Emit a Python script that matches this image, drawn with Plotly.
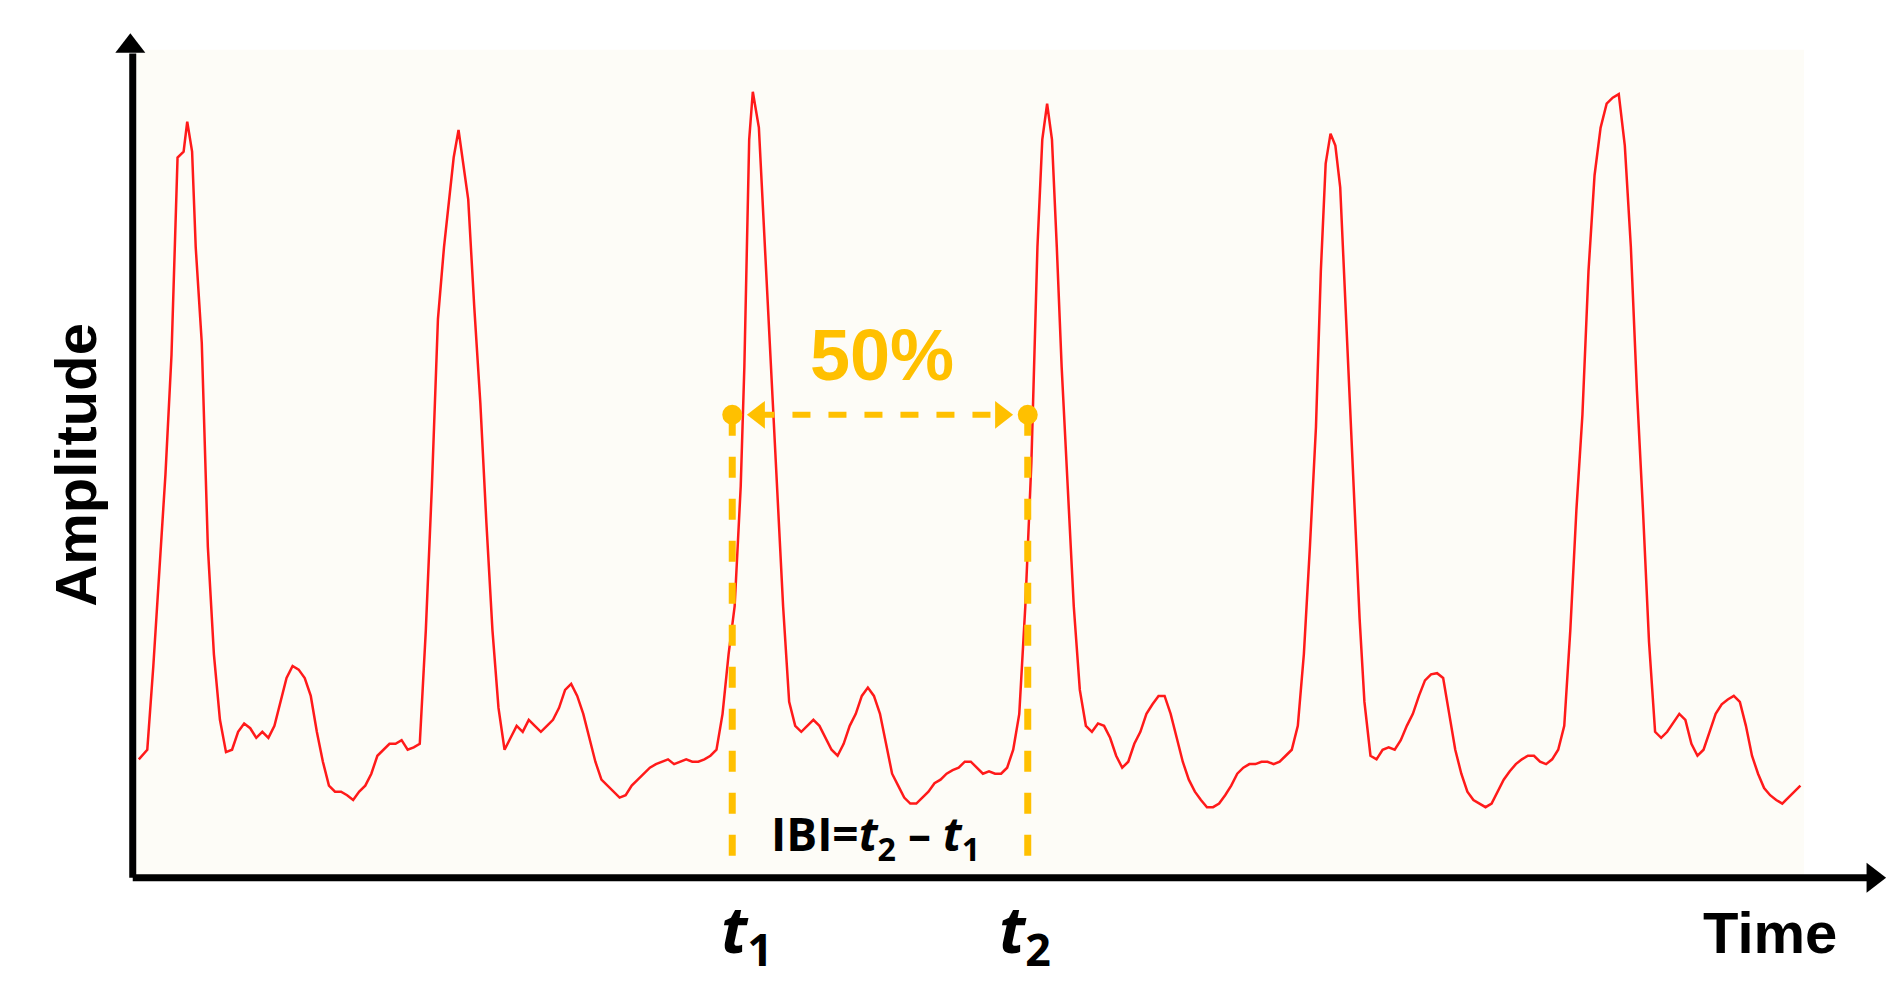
import plotly.graph_objects as go

# Signal waypoints (time units, amplitude measured downward in image-like units)
time_pts = [108,115,120,125,130,135,140,145,148,152,155,160,165,170,175,180,185,190,195,200,205,210,215,220,225,230,235,240,245,250,255,260,265,270,275,280,285,290,295,300,305,310,315,320,325,330,335,340,345,350,355,360,365,368,372,376,380,385,390,395,400,405,410,415,420,425,430,435,440,445,450,455,460,465,470,475,480,485,490,495,500,505,510,515,520,525,530,535,540,545,550,555,560,565,570,575,580,585,590,595,600,605,608,612,615,620,625,630,635,640,645,650,655,660,665,670,675,680,685,690,695,700,705,710,715,720,725,730,735,740,745,750,755,760,765,770,775,780,785,790,795,800,805,810,815,820,825,830,835,840,845,850,854,858,862,866,870,875,880,885,890,895,900,905,910,915,920,925,930,935,940,945,950,955,960,965,970,975,980,985,990,995,1000,1005,1010,1015,1020,1025,1030,1035,1040,1045,1050,1055,1060,1065,1070,1075,1080,1084,1088,1092,1096,1100,1104,1108,1112,1116,1120,1125,1130,1135,1140,1145,1150,1155,1160,1165,1170,1175,1180,1185,1190,1195,1200,1205,1210,1215,1220,1225,1230,1235,1240,1245,1250,1255,1260,1265,1270,1275,1280,1285,1290,1295,1300,1305,1310,1315,1320,1325,1330,1335,1340,1345,1350,1355,1360,1365,1370,1375,1380,1385,1390,1395,1400,1405,1410,1415,1420,1425,1430,1435,1440,1445,1450,1455,1460,1465,1470,1475,1480]
amp_pts = [628,620,550,470,390,290,125,120,95,120,200,280,450,540,595,622,620,605,598,602,610,605,610,600,580,560,550,553,560,575,605,630,650,655,655,658,662,655,650,640,625,620,615,615,612,620,618,615,520,400,260,200,150,125,102,130,160,250,330,430,520,585,620,610,600,605,595,600,605,600,595,585,570,565,575,590,610,630,645,650,655,660,658,650,645,640,635,632,630,628,632,630,628,630,630,628,625,620,590,540,500,400,300,110,70,100,200,300,400,500,580,600,605,600,595,600,610,620,625,615,600,590,575,568,575,590,615,640,650,660,665,665,660,655,648,645,640,637,635,630,630,635,640,638,640,640,635,620,590,500,380,200,110,80,110,200,300,400,500,570,600,605,598,600,610,625,635,630,615,605,590,582,575,575,590,610,630,645,655,662,668,668,665,658,650,640,635,632,632,630,630,632,630,625,620,600,540,450,350,220,130,105,115,150,240,330,420,510,580,625,628,620,618,620,612,600,590,575,562,557,556,560,590,620,640,655,662,665,668,665,655,645,638,632,628,625,625,630,632,628,620,600,520,420,340,220,140,100,80,75,72,115,200,320,420,530,605,610,605,598,590,595,615,625,620,605,590,582,578,575,580,600,625,640,652,658,662,665,660,655,650]

t1_x, t2_x, half_level = 598, 842, 340
tick_labels = ["<b><i>t</i><sub>1</sub></b>", "<b><i>t</i><sub>2</sub></b>"]

YEL = "#FFC000"

fig = go.Figure()
fig.add_shape(type="rect", x0=105, x1=1483, y0=35, y1=725, fillcolor="#FDFCF7", line_width=0, layer="below")
fig.add_trace(go.Scatter(x=time_pts, y=amp_pts, mode="lines", line=dict(color="#FF1A1A", width=2.5), hoverinfo="skip"))

# axes
fig.add_shape(type="line", x0=103, x1=103, y0=727, y1=38, line=dict(color="black", width=7))
fig.add_shape(type="line", x0=103, x1=1535, y0=727, y1=727, line=dict(color="black", width=7))
fig.add_trace(go.Scatter(x=[101], y=[32], mode="markers", marker=dict(symbol="triangle-up", size=26, color="black")))
fig.add_trace(go.Scatter(x=[1540], y=[727], mode="markers", marker=dict(symbol="triangle-right", size=26, color="black")))

# IBI markers
for xv in (t1_x, t2_x):
    fig.add_shape(type="line", x0=xv, x1=xv, y0=half_level, y1=715, line=dict(color=YEL, width=7, dash="dash"))
fig.add_shape(type="line", x0=t1_x + 20, x1=t2_x - 20, y0=half_level, y1=half_level, line=dict(color=YEL, width=6, dash="dash"))
fig.add_trace(go.Scatter(x=[t1_x, t2_x], y=[half_level] * 2, mode="markers", marker=dict(symbol="circle", size=20, color=YEL)))
fig.add_trace(go.Scatter(x=[t1_x + 22, t2_x - 22], y=[half_level] * 2, mode="markers",
                         marker=dict(symbol=["triangle-left", "triangle-right"], size=24, color=YEL)))

fig.add_annotation(x=722, y=290, text="<b>50%</b>", showarrow=False, font=dict(size=72, color=YEL, family="Liberation Sans Narrow, Liberation Sans"))
fig.add_annotation(x=716, y=692, text="<b>IBI=<i>t</i><sub>2</sub> – <i>t</i><sub>1</sub></b>", showarrow=False, font=dict(size=46, color="black", family="Open Sans"))
for xv, lab in zip((t1_x + 12, t2_x - 2), tick_labels):
    fig.add_annotation(x=xv, y=772, text=lab, showarrow=False, font=dict(size=64, color="black", family="Open Sans"))
fig.add_annotation(x=1455, y=773, text="<b>Time</b>", showarrow=False, font=dict(size=58, color="black", family="Liberation Sans"))
fig.add_annotation(x=55, y=382, text="<b>Amplitude</b>", textangle=-90, showarrow=False, font=dict(size=58, color="black", family="Liberation Sans"))

fig.update_layout(width=1899, height=993, margin=dict(l=0, r=0, t=0, b=0), showlegend=False,
                  paper_bgcolor="white", plot_bgcolor="white",
                  xaxis=dict(range=[0, 1568], visible=False, fixedrange=True),
                  yaxis=dict(range=[830, 0], visible=False, fixedrange=True))
fig.write_html("out.html")
